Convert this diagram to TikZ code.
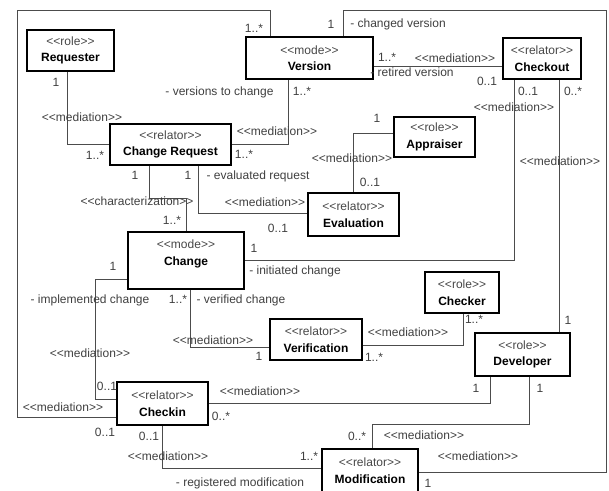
\documentclass[tikz,border=0pt]{standalone}
\usepackage{fontspec}
\setmainfont{Liberation Sans}[Ligatures=TeXOff]
\newcommand\st[1]{<<#1>>}
\newcommand\boxtext[2]{{\color{black!72}\st{#1}}\\\textbf{#2}}
\begin{document}
\begin{tikzpicture}[x=1pt,y=-1pt,
  box/.style={draw=black, line width=2.4pt, fill=white, inner sep=0pt,
    align=center, font=\fontsize{12}{16.5}\selectfont},
  conn/.style={draw=black!70, line width=1pt},
  lbl/.style={inner sep=0pt, text height=8.5pt, text depth=2.5pt,
    font=\fontsize{12}{14}\selectfont, text=black!75}]
\useasboundingbox (0,0) rectangle (609,490);
\clip (0,0) rectangle (609,490);
\fill[white] (0,0) rectangle (609,490);

% classes
\node[box, minimum width=87pt,  minimum height=41pt] (req)  at (70.5,50.5)  {\boxtext{role}{Requester}};
\node[box, minimum width=127pt, minimum height=42pt] (ver)  at (309.5,58)   {\boxtext{mode}{Version}};
\node[box, minimum width=78pt,  minimum height=41pt] (cko)  at (542,58.5)   {\boxtext{relator}{Checkout}};
\node[box, minimum width=121pt, minimum height=41pt] (cr)   at (170.5,144.5){\boxtext{relator}{Change Request}};
\node[box, minimum width=81pt,  minimum height=40pt] (app)  at (434.5,137)  {\boxtext{role}{Appraiser}};
\node[box, minimum width=91pt,  minimum height=43pt] (eval) at (353.5,214.5){\boxtext{relator}{Evaluation}};
\node[box, minimum width=116pt, minimum height=57pt] (chg)  at (186,260.5)  {};
\node[align=center, inner sep=0pt, font=\fontsize{12}{16.5}\selectfont] (chgtxt) at (186,254) {\boxtext{mode}{Change}};
\node[box, minimum width=74pt,  minimum height=41pt] (chk)  at (462,292.5)  {\boxtext{role}{Checker}};
\node[box, minimum width=92pt,  minimum height=41pt] (vrf)  at (316,339.5)  {\boxtext{relator}{Verification}};
\node[box, minimum width=95pt,  minimum height=43pt] (dev)  at (522.5,354.5){\boxtext{role}{Developer}};
\node[box, minimum width=91pt,  minimum height=43pt] (ci)   at (162.5,403.5){\boxtext{relator}{Checkin}};
\node[box, minimum width=96pt,  minimum height=43pt] (mod)  at (370,470.5)  {\boxtext{relator}{Modification}};

% outer frame corners
\coordinate (fTL) at (17,10);
\coordinate (fTR) at (606,10);

% associations
\draw[conn] ([xshift=-3.5pt]req.south) |- (cr.west);
\draw[conn] ([xshift=-21.5pt]ver.south) |- (cr.east);
\draw[conn] ([xshift=-39.5pt]ver.north) |- (fTL) |- ([yshift=-13.5pt]ci.west);
\draw[conn] ([xshift=33.5pt]ver.north) |- (fTR) |- ([yshift=-1.5pt]mod.east);
\coordinate (vco) at ([yshift=-8pt]ver.east);
\draw[conn] (vco) -- (vco -| cko.west);
\draw[conn] ([xshift=-21.5pt]cr.south) -- ++(0,32) -| (chg.north);
\draw[conn] ([xshift=27.5pt]cr.south) |- ([yshift=1.5pt]eval.west);
\draw[conn] ([yshift=4pt]app.west) -| (eval.north);
\draw[conn] ([xshift=-28pt]cko.south) |- (chg.east);
\coordinate (cdv) at ([xshift=17pt]cko.south);
\draw[conn] (cdv) -- (cdv |- dev.north);
\draw[conn] ([yshift=-18.5pt]chg.west) -- ++(-31,0) |- ([yshift=4.5pt]ci.west);
\draw[conn] ([xshift=4pt]chg.south) |- ([yshift=-7.5pt]vrf.west);
\draw[conn] ([xshift=1pt]chk.south) |- ([yshift=-5.5pt]vrf.east);
\draw[conn] ([xshift=-32.5pt]dev.south) |- (ci.east);
\draw[conn] ([xshift=6.5pt]dev.south) -- ++(0,47) -| ([xshift=2pt]mod.north);
\draw[conn] ([xshift=-0.5pt]ci.south) |- ([yshift=2.5pt]mod.west);

% association labels
\node[lbl] (l1)  at (254,29)   {1..*};
\node[lbl] (l2)  at (56,83)    {1};
\node[lbl] (l3)  at (219.5,92) {- versions to change};
\node[lbl] (l4)  at (302,92)   {1..*};
\node[lbl] (l5)  at (82,118)   {\st{mediation}};
\node[lbl] (l6)  at (277,132)  {\st{mediation}};
\node[lbl] (l7)  at (95,156)   {1..*};
\node[lbl] (l8)  at (244,155)  {1..*};
\node[lbl] (l9)  at (331,25)   {1};
\node[lbl] (l10) at (398,24)   {- changed version};
\node[lbl] (l11) at (387,58)   {1..*};
\node[lbl] (l12) at (455,59)   {\st{mediation}};
\node[lbl] (l13) at (412,73)   {- retired version};
\node[lbl] (l14) at (487,82)   {0..1};
\node[lbl] (l15) at (528,92)   {0..1};
\node[lbl] (l16) at (573,92)   {0..*};
\node[lbl] (l17) at (514,108)  {\st{mediation}};
\node[lbl] (l18) at (377,119)  {1};
\node[lbl] (l19) at (352,159)  {\st{mediation}};
\node[lbl] (l20) at (370,183)  {0..1};
\node[lbl] (l21) at (560,162)  {\st{mediation}};
\node[lbl] (l22) at (295,271)  {- initiated change};
\node[lbl] (l23) at (135,176)  {1};
\node[lbl] (l24) at (188,176)  {1};
\node[lbl] (l25) at (258,176)  {- evaluated request};
\node[lbl] (l26) at (137,202)  {\st{characterization}};
\node[lbl] (l27) at (265,203)  {\st{mediation}};
\node[lbl] (l28) at (172,221)  {1..*};
\node[lbl] (l29) at (278,229)  {0..1};
\node[lbl] (l30) at (254,249)  {1};
\node[lbl] (l31) at (113,267)  {1};
\node[lbl] (l32) at (90,300)   {- implemented change};
\node[lbl] (l33) at (178,300)  {1..*};
\node[lbl] (l34) at (241,300)  {- verified change};
\node[lbl] (l35) at (213,341)  {\st{mediation}};
\node[lbl] (l36) at (259,357)  {1};
\node[lbl] (l37) at (90,354)   {\st{mediation}};
\node[lbl] (l38) at (107,387)  {0..1};
\node[lbl] (l39) at (63,408)   {\st{mediation}};
\node[lbl] (l40) at (105,433)  {0..1};
\node[lbl] (l41) at (149,437)  {0..1};
\node[lbl] (l42) at (260,392)  {\st{mediation}};
\node[lbl] (l43) at (221,417)  {0..*};
\node[lbl] (l44) at (168,457)  {\st{mediation}};
\node[lbl] (l45) at (240,483)  {- registered modification};
\node[lbl] (l46) at (309,457)  {1..*};
\node[lbl] (l47) at (474,320)  {1..*};
\node[lbl] (l48) at (568,321)  {1};
\node[lbl] (l49) at (408,333)  {\st{mediation}};
\node[lbl] (l50) at (374,358)  {1..*};
\node[lbl] (l51) at (476,389)  {1};
\node[lbl] (l52) at (540,389)  {1};
\node[lbl] (l53) at (357,437)  {0..*};
\node[lbl] (l54) at (424,436)  {\st{mediation}};
\node[lbl] (l55) at (478,457)  {\st{mediation}};
\node[lbl] (l56) at (428,484)  {1};
\end{tikzpicture}
\end{document}
